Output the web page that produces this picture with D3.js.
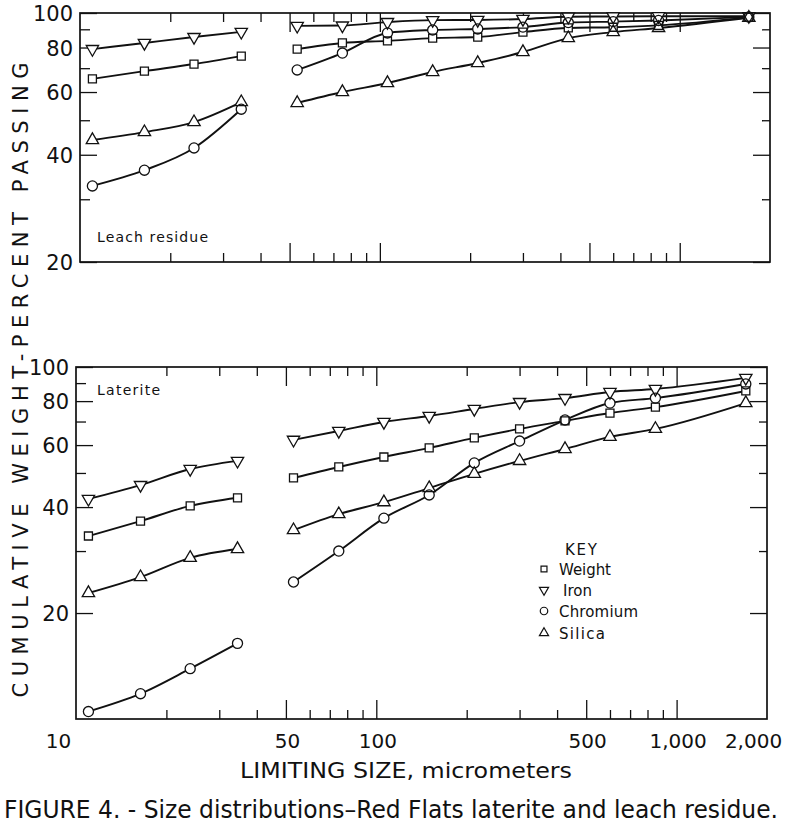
<!DOCTYPE html>
<html>
<head>
<meta charset="utf-8">
<script src="https://cdn.jsdelivr.net/npm/d3@7"></script>
<style>
  html, body { margin: 0; padding: 0; background: #fff; }
  svg { display: block; }
  text { fill: #111; }
</style>
</head>
<body>
<svg id="chart" width="800" height="839"></svg>
<script>
// ---------------- DATA ----------------
const sizesFine = [11, 16.4, 24, 34.5];
const sizesCoarse = [53, 75, 106, 150, 212, 300, 425, 600, 850, 1700];

// Leach residue (top panel)
const leachWeightFine    = [65.3, 68.7, 71.9, 75.7];
const leachIronFine      = [79.2, 82.4, 85.6, 88.5];
const leachChromiumFine  = [32.7, 36.2, 41.8, 53.7];
const leachSilicaFine    = [44.0, 46.3, 49.4, 56.2];
const leachWeightCoarse   = [79.2, 82.4, 83.5, 85.0, 85.6, 88.4, 90.8, 91.2, 92.3, 97.2];
const leachIronCoarse     = [92.0, 92.2, 94.3, 95.5, 95.6, 96.2, 97.6, 97.8, 97.9, 98.0];
const leachChromiumCoarse = [69.2, 77.2, 87.9, 89.6, 90.2, 91.3, 94.0, 94.6, 95.3, 97.5];
const leachSilicaCoarse   = [55.9, 60.0, 63.6, 68.3, 72.4, 77.7, 85.0, 88.4, 90.8, 97.0];

// Laterite (bottom panel)
const latWeightFine    = [33.1, 36.5, 40.3, 42.5];
const latIronFine      = [42.2, 46.2, 51.3, 54.1];
const latChromiumFine  = [10.5, 11.8, 13.9, 16.4];
const latSilicaFine    = [22.8, 25.3, 28.7, 30.4];
const latWeightCoarse   = [48.4, 52.0, 55.5, 58.9, 62.9, 66.7, 70.3, 74.0, 76.9, 85.5];
const latIronCoarse     = [62.1, 65.8, 69.8, 72.6, 76.0, 79.5, 81.6, 84.9, 86.6, 93.1];
const latChromiumCoarse = [24.5, 30.0, 37.2, 43.3, 53.4, 61.6, 70.7, 79.0, 81.6, 89.5];
const latSilicaCoarse   = [34.4, 38.2, 41.3, 45.3, 49.7, 54.1, 58.5, 63.3, 66.7, 79.0];

const seriesNames = ["Weight", "Iron", "Chromium", "Silica"];

const xLabelTicks = [10, 50, 100, 500, 1000, 2000];
const xMajorTicks = [50, 100, 500, 1000];
const xMinorTicks = [20, 30, 40, 60, 70, 80, 90, 200, 300, 400, 600, 700, 800, 900];
const yMajorTicks = [20, 40, 60, 80, 100];
const yMinorTicks = [30, 50, 70, 90];

const panelNames = ["Leach residue", "Laterite"];
const xTitle = "LIMITING SIZE, micrometers";
const yTitle = "CUMULATIVE WEIGHT-PERCENT PASSING";
const caption = "FIGURE 4. - Size distributions\u2013Red Flats laterite and leach residue.";

// ---------------- DRAW ----------------
const svg = d3.select("#chart");
const FONT = "'DejaVu Sans', 'Liberation Sans', sans-serif";

const symbolFor = {
  Weight:   { type: d3.symbolSquare,   size: 64, rot: 0 },
  Iron:     { type: d3.symbolTriangle, size: 66, rot: 180 },
  Chromium: { type: d3.symbolCircle,   size: 80, rot: 0 },
  Silica:   { type: d3.symbolTriangle, size: 66, rot: 0 }
};

function drawPanel(cfg) {
  const x = d3.scaleLog().domain([10, 2000]).range([cfg.x0, cfg.x1]);
  const y = d3.scaleLog().domain([cfg.ymin, 100]).range([cfg.y1, cfg.y0]);
  const g = svg.append("g");

  // frame
  g.append("rect")
    .attr("x", cfg.x0).attr("y", cfg.y0)
    .attr("width", cfg.x1 - cfg.x0).attr("height", cfg.y1 - cfg.y0)
    .attr("fill", "none").attr("stroke", "#111").attr("stroke-width", 1.7);

  const tickAxis = (axis, tx, ty) => {
    const a = g.append("g").attr("transform", `translate(${tx},${ty})`).call(axis);
    a.select(".domain").remove();
    a.selectAll("text").remove();
    a.selectAll("line").attr("stroke", "#111").attr("stroke-width", 1.3);
  };
  // x ticks (inward) on bottom and top edges
  tickAxis(d3.axisTop(x).tickValues(xMajorTicks).tickSize(19), 0, cfg.y1);
  tickAxis(d3.axisTop(x).tickValues(xMinorTicks).tickSize(9), 0, cfg.y1);
  tickAxis(d3.axisBottom(x).tickValues(xMajorTicks).tickSize(19), 0, cfg.y0);
  tickAxis(d3.axisBottom(x).tickValues(xMinorTicks).tickSize(9), 0, cfg.y0);
  // y ticks (inward) on left and right edges
  const yMaj = yMajorTicks.filter(v => v >= cfg.ymin);
  const yMin = yMinorTicks.filter(v => v >= cfg.ymin);
  tickAxis(d3.axisRight(y).tickValues(yMaj).tickSize(17), cfg.x0, 0);
  tickAxis(d3.axisRight(y).tickValues(yMin).tickSize(10), cfg.x0, 0);
  tickAxis(d3.axisLeft(y).tickValues(yMaj).tickSize(17), cfg.x1, 0);
  tickAxis(d3.axisLeft(y).tickValues(yMin).tickSize(8), cfg.x1, 0);

  // y labels
  const yl = g.append("g").attr("transform", `translate(${cfg.x0 - 4},0)`)
    .call(d3.axisLeft(y).tickValues(yMaj).tickSize(0).tickFormat(d3.format("d")));
  yl.select(".domain").remove();
  yl.selectAll("text").attr("font-family", FONT).attr("font-size", 21)
    .attr("fill", "#111").attr("dy", "0.36em");

  // series
  const line = d3.line().x(d => x(d[0])).y(d => y(d[1])).curve(d3.curveMonotoneX);
  const segs = [];
  seriesNames.forEach((name, i) => {
    const fine = sizesFine.map((s, k) => [s, cfg.fine[i][k]]);
    const coarse = sizesCoarse.map((s, k) => [s, cfg.coarse[i][k]]);
    segs.push({ name, pts: fine });
    segs.push({ name, pts: coarse });
  });
  g.append("g").selectAll("path").data(segs).join("path")
    .attr("d", d => line(d.pts))
    .attr("fill", "none").attr("stroke", "#111").attr("stroke-width", 1.9);

  const allPts = segs.flatMap(s => s.pts.map(p => ({ name: s.name, p })));
  const sym = d => d3.symbol().type(symbolFor[d.name].type).size(symbolFor[d.name].size)();
  const tr = d => `translate(${x(d.p[0])},${y(d.p[1])}) rotate(${symbolFor[d.name].rot})`;
  // white fill layer then outline layer
  g.append("g").selectAll("path").data(allPts).join("path")
    .attr("d", sym).attr("transform", tr).attr("fill", "#fff").attr("stroke", "none");
  g.append("g").selectAll("path").data(allPts).join("path")
    .attr("d", sym).attr("transform", tr).attr("fill", "none")
    .attr("stroke", "#111").attr("stroke-width", 1.3);

  // panel name
  g.append("text").attr("x", cfg.nameX).attr("y", cfg.nameY)
    .attr("font-family", FONT).attr("font-size", 14)
    .attr("textLength", cfg.nameLen).attr("lengthAdjust", "spacing")
    .text(cfg.name);

  return { x, y, g };
}

drawPanel({
  x0: 80, x1: 770, y0: 13, y1: 262, ymin: 20,
  fine: [leachWeightFine, leachIronFine, leachChromiumFine, leachSilicaFine],
  coarse: [leachWeightCoarse, leachIronCoarse, leachChromiumCoarse, leachSilicaCoarse],
  name: panelNames[0], nameX: 97, nameY: 242, nameLen: 111
});

const bottom = drawPanel({
  x0: 76, x1: 767, y0: 367, y1: 719, ymin: 10,
  fine: [latWeightFine, latIronFine, latChromiumFine, latSilicaFine],
  coarse: [latWeightCoarse, latIronCoarse, latChromiumCoarse, latSilicaCoarse],
  name: panelNames[1], nameX: 97, nameY: 395, nameLen: 63
});

// x tick labels (bottom panel)
const xl = svg.append("g").attr("transform", "translate(0,719)")
  .call(d3.axisBottom(bottom.x).tickValues(xLabelTicks).tickSize(0)
        .tickFormat(d => d3.format(",")(d)));
xl.select(".domain").remove();
xl.selectAll("text").attr("font-family", FONT).attr("font-size", 20)
  .attr("fill", "#111").attr("dy", "0").attr("y", 29)
  .attr("dx", d => d === 10 ? -18 : (d === 2000 ? -14 : 1));

// legend
const lg = svg.append("g");
lg.append("text").attr("x", 565).attr("y", 555)
  .attr("font-family", FONT).attr("font-size", 15)
  .attr("textLength", 32).attr("lengthAdjust", "spacing").text("KEY");
const legendRows = [
  { name: "Weight", y: 569, len: 52 },
  { name: "Iron", y: 590, len: 29 },
  { name: "Chromium", y: 611, len: 79 },
  { name: "Silica", y: 633, len: 46 }
];
legendRows.forEach(r => {
  const s = symbolFor[r.name];
  lg.append("path")
    .attr("d", d3.symbol().type(s.type).size(s.size * 0.55)())
    .attr("transform", `translate(544,${r.y}) rotate(${s.rot})`)
    .attr("fill", "#fff").attr("stroke", "#111").attr("stroke-width", 1.2);
  lg.append("text").attr("x", r.name === "Iron" ? 563 : 559).attr("y", r.y + 5.5)
    .attr("font-family", FONT).attr("font-size", 15)
    .attr("textLength", r.len).attr("lengthAdjust", "spacing").text(r.name);
});

// axis titles
svg.append("text").attr("x", 406).attr("y", 778).attr("text-anchor", "middle")
  .attr("font-family", FONT).attr("font-size", 21)
  .attr("textLength", 332).attr("lengthAdjust", "spacingAndGlyphs")
  .text(xTitle);

svg.append("text")
  .attr("transform", "translate(28,380) rotate(-90)")
  .attr("text-anchor", "middle")
  .attr("font-family", FONT).attr("font-size", 21)
  .attr("textLength", 635).attr("lengthAdjust", "spacing")
  .text(yTitle);

svg.append("text").attr("x", 391).attr("y", 818).attr("text-anchor", "middle")
  .attr("font-family", FONT).attr("font-size", 24)
  .attr("textLength", 774).attr("lengthAdjust", "spacingAndGlyphs")
  .text(caption);
</script>
</body>
</html>
